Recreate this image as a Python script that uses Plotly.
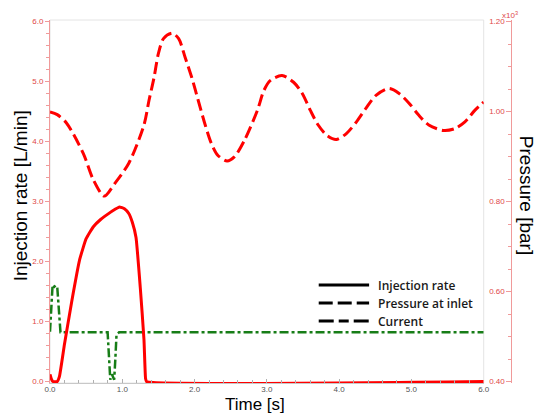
import plotly.graph_objects as go

# ---------------- data ----------------
time_inj = [0, 0.02, 0.04, 0.10, 0.13, 0.20, 0.30, 0.41, 0.50, 0.60, 0.70, 0.80,
            0.90, 0.96, 1.03, 1.09, 1.14, 1.19, 1.25, 1.30, 1.322, 1.335, 6.0]
injection_rate = [0.12, 0.04, 0.0, 0.0, 0.08, 0.62, 1.33, 2.03, 2.38, 2.58, 2.70, 2.79,
                  2.87, 2.91, 2.88, 2.80, 2.65, 2.40, 1.55, 0.70, 0.05, 0.0, 0.0]

time_pres = [0, 0.10, 0.23, 0.46, 0.60, 0.75, 0.90, 1.09, 1.30, 1.37, 1.44, 1.50,
             1.57, 1.69, 1.78, 1.87, 1.96, 2.05, 2.14, 2.23, 2.32, 2.45, 2.55, 2.69,
             2.87, 2.96, 3.05, 3.21, 3.37, 3.49, 3.60, 3.71, 3.83, 3.96, 4.10, 4.24,
             4.37, 4.51, 4.69, 4.83, 4.97, 5.10, 5.24, 5.44, 5.60, 5.74, 5.88, 6.0]
pressure_kbar = [0.999, 0.993, 0.974, 0.907, 0.848, 0.812, 0.841, 0.885, 0.970,
                 1.025, 1.076, 1.129, 1.162, 1.174, 1.162, 1.120, 1.076, 1.025, 0.974,
                 0.930, 0.903, 0.890, 0.899, 0.936, 1.003, 1.047, 1.069, 1.080, 1.065,
                 1.040, 1.003, 0.970, 0.947, 0.938, 0.951, 0.977, 1.007, 1.036, 1.051,
                 1.040, 1.018, 0.992, 0.970, 0.958, 0.962, 0.977, 1.003, 1.021]

time_cur = [0, 0.02, 0.036, 0.06, 0.08, 0.10, 0.125, 0.145, 0.797, 0.815, 0.834,
            0.857, 0.888, 0.905, 0.92, 0.956, 6.0]
current = [0.83, 1.30, 1.61, 1.58, 1.60, 1.58, 1.05, 0.82, 0.82, 0.40, 0.03,
           0.12, 0.03, 0.40, 0.78, 0.82, 0.82]

legend_labels = ["Injection rate", "Pressure at inlet", "Current"]

# ---------------- figure ----------------
W, H = 547, 414
ML, MR, MT, MB = 50, 0, 20, 31
PW, PH = W - ML - MR, H - MT - MB


def px_x(x):
    return (x - ML) / PW


def px_y(y):
    return (H - MB - y) / PH


RED = "#ff0000"
GREEN = "#177d17"
AXRED = "#f09a9a"
LBLRED = "#e04848"

fig = go.Figure()
fig.add_trace(go.Scatter(x=time_pres, y=pressure_kbar, yaxis="y2", mode="lines",
                         line=dict(color=RED, width=3, dash="12px,5px", shape="spline", smoothing=0.8),
                         showlegend=False))
fig.add_trace(go.Scatter(x=time_cur, y=current, mode="lines",
                         line=dict(color=GREEN, width=2.5, dash="9px,3px,3px,3px"),
                         showlegend=False))
fig.add_trace(go.Scatter(x=time_inj, y=injection_rate, mode="lines",
                         line=dict(color=RED, width=3, shape="spline", smoothing=0.4),
                         showlegend=False))

ext = 0.025
fig.update_layout(
    width=W, height=H,
    margin=dict(l=ML, r=MR, t=MT, b=MB, pad=0),
    paper_bgcolor="white", plot_bgcolor="white",
    font=dict(family="Liberation Sans, Arial, sans-serif"),
    xaxis=dict(domain=[0, px_x(489)], range=[0, 6], showgrid=False, zeroline=False,
               showline=True, linecolor="#c8c8c8", linewidth=1,
               ticks="inside", ticklen=4, tickcolor="#b0b0b0", dtick=1, tick0=0,
               tickformat=".1f", tickfont=dict(size=8, color="#555555"),
               minor=dict(ticks="inside", ticklen=3, dtick=0.2, tickcolor="#b0b0b0", showgrid=False)),
    yaxis=dict(range=[-ext, 6 + ext], showgrid=False, zeroline=False,
               showline=True, linecolor=AXRED, linewidth=1,
               ticks="outside", ticklen=4, tickcolor=AXRED, dtick=1, tick0=0,
               tickformat=".1f", tickfont=dict(size=8, color=LBLRED),
               minor=dict(ticks="outside", ticklen=3, dtick=0.2, tickcolor=AXRED, showgrid=False)),
    yaxis2=dict(overlaying="y", anchor="free", position=px_x(517), side="left",
                range=[0.4 - ext * 0.8 / 6, 1.2 + ext * 0.8 / 6],
                showgrid=False, zeroline=False, showline=True, linecolor=AXRED, linewidth=1,
                ticks="outside", ticklen=5, tickcolor=AXRED, dtick=0.2, tick0=0.4,
                tickformat=".2f", tickfont=dict(size=8, color=LBLRED),
                minor=dict(ticks="outside", ticklen=3, dtick=0.05, tickcolor=AXRED, showgrid=False)),
    showlegend=False,
)
try:
    fig.update_xaxes(ticklabelstandoff=-2)
except Exception:
    pass

# plot-area frame (light gray)
fig.add_shape(type="rect", xref="x domain", yref="y domain", x0=0, x1=1, y0=0, y1=1,
              line=dict(color="#e4e4e4", width=1), layer="below")

# axis titles
fig.add_annotation(text="Injection rate [L/min]", xref="paper", yref="paper",
                   x=px_x(20), y=px_y(196), textangle=-90, showarrow=False,
                   font=dict(size=19, color="black"), xanchor="center", yanchor="middle")
fig.add_annotation(text="Time [s]", xref="paper", yref="paper",
                   x=px_x(257), y=px_y(404), showarrow=False, borderpad=0,
                   font=dict(size=17, color="black"), xanchor="center", yanchor="middle")
fig.add_annotation(text="Pressure [bar]", xref="paper", yref="paper",
                   x=px_x(533), y=px_y(195), textangle=90, showarrow=False,
                   font=dict(size=19, color="black"), xanchor="center", yanchor="middle")
fig.add_annotation(text="x10<sup>3</sup>", xref="paper", yref="paper",
                   x=px_x(516), y=px_y(15), showarrow=False,
                   font=dict(size=8, color=LBLRED), xanchor="center", yanchor="middle")

# legend (black line samples)
leg_dash = ["solid", "14px,5px", "15px,5px,10px,5px"]
leg_y = [285, 303, 321]
for lab, d, yy in zip(legend_labels, leg_dash, leg_y):
    fig.add_shape(type="line", xref="paper", yref="paper",
                  x0=px_x(322), x1=px_x(373), y0=px_y(yy), y1=px_y(yy),
                  line=dict(color="black", width=3, dash=d))
    fig.add_annotation(text=lab, xref="paper", yref="paper", x=px_x(380), y=px_y(yy),
                       showarrow=False, xanchor="left", yanchor="middle",
                       font=dict(size=12, color="#1a1a1a", family="Open Sans", weight=600))

fig.write_html("out.html")
